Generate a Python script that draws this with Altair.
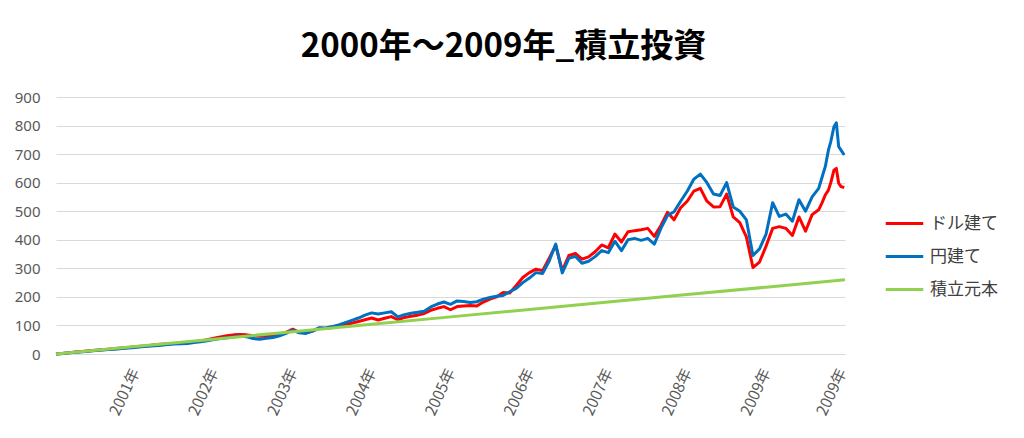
import altair as alt
import pandas as pd

# ---------------- data ----------------
series_names = ["ドル建て", "円建て", "積立元本"]
series_colors = ["#FF0000", "#0070C0", "#92D050"]

# monthly values, Jan 2000 .. Sep 2009
yen_monthly = [
    0, 2, 4, 6, 8, 10, 12, 14, 16, 17, 19, 21,                # 2000
    23, 25, 27, 29, 31, 33, 35, 36, 37, 40, 43, 46,           # 2001
    51, 54, 57, 60, 62, 60, 54, 52, 55, 58, 64, 72,           # 2002
    84, 74, 72, 80, 92, 91, 96, 102, 110, 118, 126, 136,      # 2003
    144, 140, 144, 148, 130, 138, 143, 146, 150, 165, 175, 182,  # 2004
    174, 186, 184, 180, 183, 192, 198, 202, 205, 218, 230, 250,  # 2005
    266, 285, 282, 325, 385, 284, 335, 342, 318, 325, 341, 362,  # 2006
    355, 395, 362, 400, 405, 398, 405, 385, 440, 485, 498, 535,  # 2007
    570, 612, 630, 600, 560, 555, 600, 515, 500, 470, 345, 368,  # 2008
    420, 530, 482, 490, 465, 540, 500, 550, 580,                 # 2009 Jan-Sep
]
usd_monthly = [
    0, 2, 4, 7, 9, 11, 13, 15, 17, 19, 21, 23,
    25, 27, 29, 32, 34, 36, 37, 38, 40, 43, 46, 50,
    55, 60, 64, 67, 68, 67, 64, 62, 63, 66, 70, 76,
    87, 76, 74, 80, 90, 89, 93, 98, 104, 108, 114, 120,
    126, 119, 125, 131, 120, 128, 132, 136, 142, 153, 160, 166,
    155, 166, 168, 170, 168, 182, 192, 200, 215, 214, 240, 268,
    285, 297, 292, 335, 380, 292, 345, 352, 332, 340, 358, 382,
    372, 420, 392, 428, 432, 435, 440, 412, 450, 496, 470, 512,
    535, 570, 580, 535, 515, 516, 560, 480, 460, 410, 303, 322,
    378, 440, 446, 440, 415, 480, 430, 488, 505,
]
# finer readings for the last months of 2009
tail_years = [2009.71, 2009.75, 2009.79, 2009.82, 2009.86, 2009.89, 2009.92, 2009.95, 2009.99]
yen_tail = [620, 656, 714, 744, 796, 810, 726, 714, 697]
usd_tail = [530, 557, 574, 600, 644, 650, 598, 586, 583]

principal_years = [2000, 2001, 2002, 2003, 2004, 2005, 2006, 2007, 2008, 2009, 2010]
principal_values = [0, 26, 52, 78, 104, 130, 156, 182, 208, 234, 260]

x_tick_values = [2001, 2002, 2003, 2004, 2005, 2006, 2007, 2008, 2009, 2009.96]
y_tick_values = [0, 100, 200, 300, 400, 500, 600, 700, 800, 900]

title_text = "2000年～2009年_積立投資"

# ---------------- tables ----------------
month_years = [2000 + i / 12 for i in range(len(yen_monthly))]
years = month_years + tail_years

df_usd = pd.DataFrame({"year": years, "value": usd_monthly + usd_tail, "series": series_names[0]})
df_yen = pd.DataFrame({"year": years, "value": yen_monthly + yen_tail, "series": series_names[1]})
df_pri = pd.DataFrame({"year": principal_years, "value": principal_values, "series": series_names[2]})

# ---------------- chart ----------------
PLOT_W, PLOT_H = 789, 257
PAD_L, PAD_T = 48, 89
PAD_R = 1008 - PAD_L - PLOT_W
PAD_B = 421 - PAD_T - PLOT_H

x_axis = alt.Axis(
    values=x_tick_values,
    labelExpr="floor(datum.value) + '年'",
    labelAngle=-65,
    labelAlign="right",
    labelBaseline="middle",
    labelPadding=15,
    labelFlush=False,
    labelOverlap=False,
    ticks=False,
    grid=False,
    domain=True,
    domainColor="#D9D9D9",
    domainWidth=1,
    labelColor="#595959",
    labelFontSize=15.5,
    labelFont="Noto Sans CJK JP",
    title=None,
)
y_axis = alt.Axis(
    values=y_tick_values,
    grid=True,
    gridColor="#D9D9D9",
    gridWidth=1,
    domain=False,
    ticks=False,
    labelPadding=16,
    labelColor="#595959",
    labelFontSize=15,
    labelFont="Noto Sans",
    title=None,
)
legend = alt.Legend(
    title=None,
    orient="none",
    legendX=832,
    legendY=110,
    symbolType="M-1.25,0L1.25,0",
    symbolSize=900,
    symbolStrokeWidth=3,
    labelFontSize=17,
    labelFont="Noto Sans CJK JP",
    labelColor="#404040",
    labelOffset=9,
    rowPadding=8,
    padding=0,
)
color_scale = alt.Scale(domain=series_names, range=series_colors)


def line(df):
    return alt.Chart(df).mark_line(strokeWidth=3, strokeJoin="round").encode(
        x=alt.X("year:Q", scale=alt.Scale(domain=[2000, 2010], nice=False, zero=False), axis=x_axis),
        y=alt.Y("value:Q", scale=alt.Scale(domain=[0, 900], nice=False), axis=y_axis),
        color=alt.Color("series:N", scale=color_scale, legend=legend),
    )


chart = alt.layer(line(df_usd), line(df_yen), line(df_pri)).properties(
    width=PLOT_W,
    height=PLOT_H,
    autosize=alt.AutoSizeParams(type="none"),
    padding={"left": PAD_L, "top": PAD_T, "right": PAD_R, "bottom": PAD_B},
    background="white",
    title=alt.TitleParams(
        title_text,
        fontSize=33,
        font="Noto Sans CJK JP",
        fontWeight="bold",
        color="black",
        anchor="middle",
        baseline="bottom",
        dx=53,
        dy=29,
        offset=22,
    ),
).configure_view(stroke=None)

chart.save("out.html", embed_options={"renderer": "svg", "actions": False})
